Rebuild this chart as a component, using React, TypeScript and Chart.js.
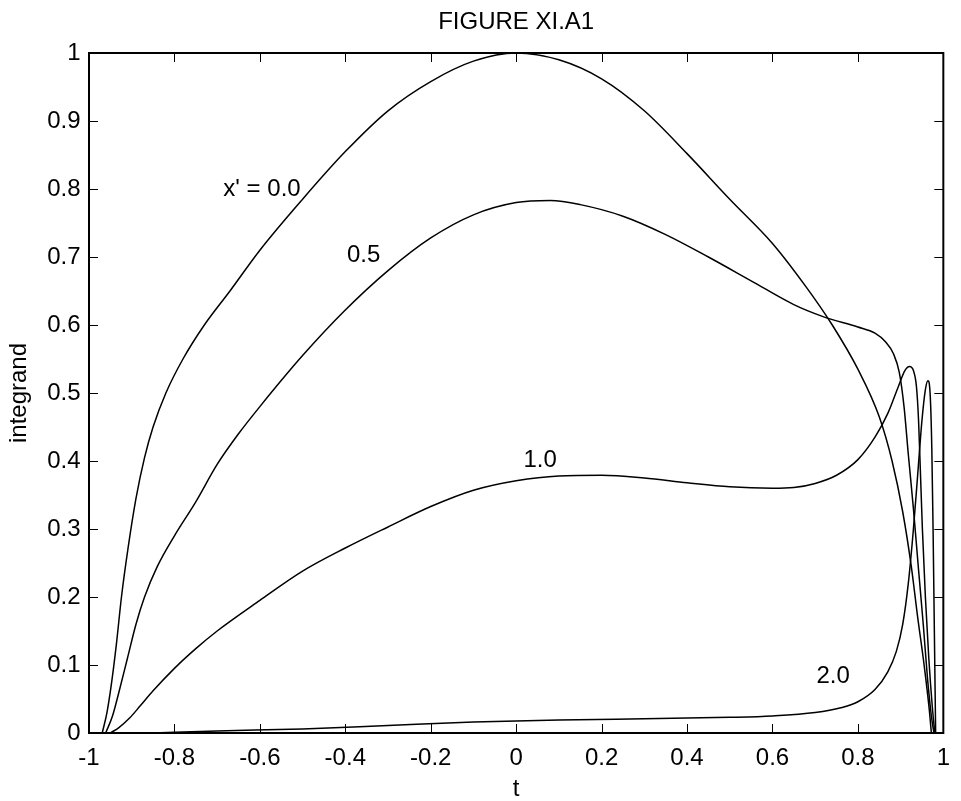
import React, { useEffect, useRef } from 'react';
import { Chart, registerables } from 'chart.js';

Chart.register(...registerables);

const FONT = '"Liberation Sans", Arial, Helvetica, sans-serif';

const titleText = 'FIGURE XI.A1';
const xAxisTitle = 't';
const yAxisTitle = 'integrand';

const xTicks = [-1, -0.8, -0.6, -0.4, -0.2, 0, 0.2, 0.4, 0.6, 0.8, 1];
const xTickLabels = ['-1', '-0.8', '-0.6', '-0.4', '-0.2', '0', '0.2', '0.4', '0.6', '0.8', '1'];
const yTicks = [0, 0.1, 0.2, 0.3, 0.4, 0.5, 0.6, 0.7, 0.8, 0.9, 1];
const yTickLabels = ['0', '0.1', '0.2', '0.3', '0.4', '0.5', '0.6', '0.7', '0.8', '0.9', '1'];

// x' = 0.0
const t00 = [-0.969, -0.958, -0.948, -0.936, -0.924, -0.909, -0.89, -0.87, -0.85, -0.82, -0.78, -0.73, -0.67, -0.6, -0.5, -0.4, -0.3, -0.2, -0.1, 0, 0.1, 0.2, 0.3, 0.4, 0.5, 0.6, 0.68, 0.74, 0.8, 0.85, 0.88, 0.905, 0.925, 0.94, 0.955, 0.967, 0.972];
const v00 = [0, 0.03, 0.07, 0.13, 0.2, 0.27, 0.345, 0.405, 0.45, 0.5, 0.55, 0.6, 0.65, 0.71, 0.785, 0.855, 0.915, 0.958, 0.988, 1.0, 0.99, 0.962, 0.915, 0.852, 0.785, 0.72, 0.655, 0.6, 0.535, 0.465, 0.4, 0.325, 0.245, 0.17, 0.1, 0.035, 0];

// x' = 0.5
const t05 = [-0.961, -0.945, -0.93, -0.91, -0.89, -0.87, -0.84, -0.8, -0.75, -0.7, -0.65, -0.6, -0.5, -0.4, -0.3, -0.2, -0.1, 0, 0.08, 0.15, 0.25, 0.35, 0.45, 0.55, 0.65, 0.72, 0.8, 0.84, 0.865, 0.883, 0.897, 0.908, 0.918, 0.93, 0.942, 0.953, 0.963, 0.972, 0.978];
const v05 = [0, 0.025, 0.06, 0.11, 0.16, 0.2, 0.245, 0.29, 0.34, 0.395, 0.44, 0.48, 0.555, 0.622, 0.68, 0.728, 0.762, 0.78, 0.783, 0.777, 0.76, 0.733, 0.7, 0.665, 0.63, 0.612, 0.597, 0.588, 0.575, 0.558, 0.53, 0.48, 0.41, 0.33, 0.24, 0.16, 0.08, 0.025, 0];

// x' = 1.0
const t10 = [-0.95, -0.93, -0.905, -0.88, -0.85, -0.8, -0.75, -0.7, -0.6, -0.5, -0.4, -0.3, -0.2, -0.1, 0, 0.1, 0.2, 0.3, 0.4, 0.5, 0.6, 0.65, 0.7, 0.75, 0.8, 0.84, 0.87, 0.895, 0.91, 0.921, 0.93, 0.937, 0.942, 0.946, 0.951, 0.958, 0.966, 0.974, 0.98];
const v10 = [0, 0.008, 0.022, 0.04, 0.062, 0.095, 0.124, 0.15, 0.195, 0.238, 0.272, 0.303, 0.333, 0.357, 0.371, 0.378, 0.379, 0.375, 0.368, 0.362, 0.36, 0.361, 0.367, 0.379, 0.402, 0.435, 0.47, 0.51, 0.533, 0.539, 0.533, 0.51, 0.46, 0.39, 0.3, 0.2, 0.11, 0.04, 0];

// x' = 2.0
const t20 = [-0.85, -0.7, -0.5, -0.3, -0.1, 0.1, 0.3, 0.5, 0.6, 0.7, 0.76, 0.8, 0.84, 0.87, 0.89, 0.905, 0.918, 0.93, 0.94, 0.95, 0.958, 0.964, 0.969, 0.973, 0.976, 0.979, 0.982];
const v20 = [0, 0.003, 0.006, 0.011, 0.016, 0.019, 0.021, 0.023, 0.025, 0.03, 0.037, 0.046, 0.064, 0.09, 0.12, 0.16, 0.22, 0.3, 0.38, 0.46, 0.505, 0.518, 0.5, 0.42, 0.3, 0.15, 0];

const curveLabels = ["x' = 0.0", '0.5', '1.0', '2.0'];
const curveLabelT = [-0.595, -0.357, 0.056, 0.742];
const curveLabelV = [0.8, 0.703, 0.401, 0.083];

const toPoints = (ts: number[], vs: number[]) => ts.map((t, i) => ({ x: t, y: vs[i] }));

const boxPlugin = {
  id: 'matlabBox',
  afterDatasetsDraw(chart: any) {
    const { ctx, chartArea: a, scales } = chart;
    const xs = scales.x;
    const ys = scales.y;
    const L = 9;
    ctx.save();
    ctx.strokeStyle = '#000';
    ctx.lineWidth = 1;
    ctx.beginPath();
    xTicks.forEach((v) => {
      const px = Math.round(xs.getPixelForValue(v)) + 0.5;
      ctx.moveTo(px, a.bottom);
      ctx.lineTo(px, a.bottom - L);
      ctx.moveTo(px, a.top);
      ctx.lineTo(px, a.top + L);
    });
    yTicks.forEach((v) => {
      const py = Math.round(ys.getPixelForValue(v)) + 0.5;
      ctx.moveTo(a.left, py);
      ctx.lineTo(a.left + L, py);
      ctx.moveTo(a.right, py);
      ctx.lineTo(a.right - L, py);
    });
    ctx.stroke();
    ctx.lineWidth = 2;
    ctx.strokeRect(a.left, a.top, a.right - a.left, a.bottom - a.top);
    ctx.fillStyle = '#000';
    ctx.font = `24px ${FONT}`;
    ctx.textAlign = 'center';
    ctx.textBaseline = 'middle';
    curveLabels.forEach((s, i) => {
      ctx.fillText(s, xs.getPixelForValue(curveLabelT[i]), ys.getPixelForValue(curveLabelV[i]));
    });
    ctx.restore();
  },
};

export default function App() {
  const ref = useRef<HTMLCanvasElement | null>(null);
  useEffect(() => {
    if (!ref.current) return;
    const lineDs = (ts: number[], vs: number[]) => ({
      data: toPoints(ts, vs),
      borderColor: '#000',
      borderWidth: 1.5,
      pointRadius: 0,
      fill: false,
      cubicInterpolationMode: 'monotone' as const,
    });
    const chart = new Chart(ref.current, {
      type: 'line',
      data: {
        datasets: [lineDs(t00, v00), lineDs(t05, v05), lineDs(t10, v10), lineDs(t20, v20)],
      },
      options: {
        animation: false,
        responsive: false,
        devicePixelRatio: 1,
        layout: { padding: { left: 0, right: 7, top: 0, bottom: 0 } },
        plugins: {
          legend: { display: false },
          tooltip: { enabled: false },
          title: {
            display: true,
            text: titleText,
            color: '#000',
            fullSize: false,
            font: { family: FONT, size: 24, weight: 'normal' },
            padding: { top: 8, bottom: 16.2 },
          },
        },
        scales: {
          x: {
            type: 'linear',
            min: -1,
            max: 1,
            afterBuildTicks: (s: any) => {
              s.ticks = xTicks.map((v) => ({ value: v }));
            },
            afterFit: (s: any) => {
              s.height = 68;
            },
            grid: { display: false, drawTicks: false },
            border: { display: false },
            ticks: {
              autoSkip: false,
              maxRotation: 0,
              color: '#000',
              padding: 11,
              font: { family: FONT, size: 24 },
              callback: (_v: any, i: number) => xTickLabels[i],
            },
            title: {
              display: true,
              text: xAxisTitle,
              color: '#000',
              font: { family: FONT, size: 24 },
              padding: { top: 0, bottom: -3 },
            },
          },
          y: {
            type: 'linear',
            min: 0,
            max: 1,
            afterBuildTicks: (s: any) => {
              s.ticks = yTicks.map((v) => ({ value: v }));
            },
            afterFit: (s: any) => {
              s.width = 89;
            },
            grid: { display: false, drawTicks: false },
            border: { display: false },
            ticks: {
              autoSkip: false,
              color: '#000',
              padding: 8.5,
              font: { family: FONT, size: 24 },
              callback: (_v: any, i: number) => yTickLabels[i],
            },
            title: {
              display: true,
              text: yAxisTitle,
              color: '#000',
              font: { family: FONT, size: 24 },
              padding: { top: 5, bottom: 0 },
            },
          },
        },
      },
      plugins: [boxPlugin],
    });
    return () => chart.destroy();
  }, []);
  return (
    <div style={{ position: 'fixed', left: 0, top: 0, width: 961, height: 801, background: '#fff' }}>
      <canvas ref={ref} width={961} height={801} style={{ display: 'block' }} />
    </div>
  );
}
